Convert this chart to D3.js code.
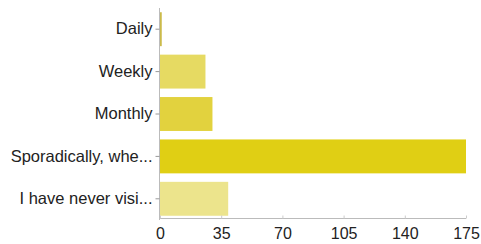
<!DOCTYPE html>
<html><head><meta charset="utf-8">
<script src="https://cdn.jsdelivr.net/npm/d3@7"></script>
<style>body{margin:0;background:#fff}svg{display:block}</style>
</head><body>
<svg id="c" width="481" height="244"></svg>
<script>
const categories = ["Daily","Weekly","Monthly","Sporadically, whe...","I have never visi..."];
const values = [1, 26, 30, 175, 39];
const colors = ["#cbbb4a","#e6da62","#e2d23e","#e0cf14","#ece48c"];
const tickValues = [0,35,70,105,140,175];

const svg = d3.select("#c");
const x = d3.scaleLinear().domain([0,175]).range([160,466]);
const y = d3.scaleBand().domain(categories).range([8,220]).paddingInner(0.2).paddingOuter(0.1);

svg.selectAll("rect.bar").data(values).enter().append("rect")
  .attr("class","bar")
  .attr("x", x(0))
  .attr("y", (d,i)=>y(categories[i]))
  .attr("width", d=>x(d)-x(0))
  .attr("height", y.bandwidth())
  .attr("fill", (d,i)=>colors[i]);

const gx = svg.append("g").attr("transform","translate(0,218.5)")
  .call(d3.axisBottom(x).tickValues(tickValues).tickSize(-3).tickPadding(9));
gx.select(".domain").attr("stroke","#bbb").attr("d","M160,0H466");
gx.selectAll(".tick line").attr("stroke","#ccc");
gx.selectAll("text").attr("font-family","Liberation Sans, Arial, sans-serif").attr("font-size",16).attr("fill","#222");

const gy = svg.append("g").attr("transform","translate(159.5,0)")
  .call(d3.axisLeft(y).tickSize(4).tickPadding(3));
gy.select(".domain").attr("stroke","#bbb").attr("d","M0,8V220");
gy.selectAll(".tick line").attr("stroke","#999");
gy.selectAll("text").attr("font-family","Liberation Sans, Arial, sans-serif").attr("font-size",16.5).attr("fill","#222");
</script>
</body></html>
